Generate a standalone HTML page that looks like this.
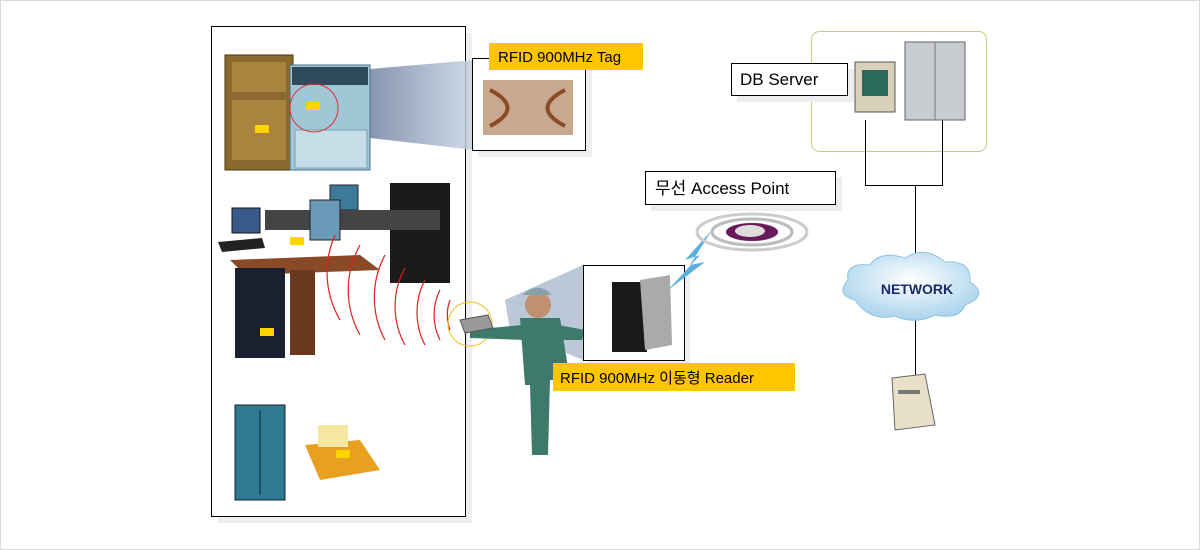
<!DOCTYPE html>
<html><head><meta charset="utf-8"><style>
body{margin:0;background:#fff}
svg{display:block}
text{font-family:"Liberation Sans","Noto Sans CJK KR",sans-serif}
</style></head><body>
<svg width="1200" height="550" viewBox="0 0 1200 550" xmlns="http://www.w3.org/2000/svg">
<defs>
<linearGradient id="beam" x1="0" x2="1"><stop offset="0" stop-color="#3a4f7a"/><stop offset="1" stop-color="#c8d4e4"/></linearGradient>
<radialGradient id="cloud" cx="0.5" cy="0.4" r="0.6"><stop offset="0" stop-color="#ffffff"/><stop offset="1" stop-color="#a9d3ec"/></radialGradient>
</defs>
<rect x="0.5" y="0.5" width="1199" height="549" fill="#fff" stroke="#d9d9d9"/>
<!-- left box -->
<rect x="218" y="33" width="254" height="490" fill="#eeeeee"/>
<rect x="211.5" y="26.5" width="254" height="490" fill="#fff" stroke="#000"/>
<!-- beam to tag -->
<polygon points="300,75 475,60 475,150 300,130" fill="url(#beam)" opacity="0.85"/>
<!-- cabinets -->
<rect x="225" y="55" width="68" height="115" fill="#8a6a2e" stroke="#4a3510"/>
<rect x="232" y="62" width="54" height="30" fill="#a8843e"/>
<rect x="232" y="100" width="54" height="60" fill="#a8843e"/>
<rect x="290" y="65" width="80" height="105" fill="#9fc7d6" stroke="#4b6f80"/>
<rect x="292" y="67" width="76" height="18" fill="#2f4a5a"/>
<rect x="295" y="130" width="72" height="38" fill="#c5dde6" stroke="#7aa0b0"/>
<circle cx="314" cy="108" r="24" fill="none" stroke="#e03030"/>
<rect x="306" y="102" width="14" height="8" fill="#ffd200"/>
<rect x="255" y="125" width="14" height="8" fill="#ffd200"/>
<!-- tag box -->
<rect x="478" y="64" width="114" height="93" fill="#eeeeee"/>
<rect x="472.5" y="58.5" width="113" height="92" fill="#fff" stroke="#000"/>
<rect x="483" y="80" width="90" height="55" fill="#c9a98e"/>
<path d="M490,90 Q525,108 490,126 M565,90 Q530,108 565,126" stroke="#8a4a2a" stroke-width="4" fill="none"/>
<rect x="489" y="43" width="154" height="27" fill="#ffc600"/>
<text x="498" y="62" font-size="15" fill="#000">RFID 900MHz Tag</text>
<!-- desks -->
<rect x="390" y="183" width="60" height="100" fill="#1a1a1a"/>
<rect x="330" y="185" width="28" height="25" fill="#3e7a9a" stroke="#222"/>
<polygon points="265,210 440,210 440,230 265,230" fill="#444"/>
<rect x="310" y="200" width="30" height="40" fill="#6a9ab8" stroke="#222"/>
<polygon points="230,260 360,255 380,270 245,275" fill="#8a4a28"/>
<rect x="235" y="268" width="50" height="90" fill="#1a2030"/>
<rect x="290" y="270" width="25" height="85" fill="#6a3a20"/>
<rect x="232" y="208" width="28" height="25" fill="#3a5a8a" stroke="#111"/>
<polygon points="218,242 262,238 265,248 222,252" fill="#222"/>
<rect x="260" y="328" width="14" height="8" fill="#ffd200"/>
<rect x="290" y="237" width="14" height="8" fill="#ffd200"/>
<!-- red arcs -->
<g fill="none" stroke="#e02020" stroke-width="1.2">
<path d="M450,300 A20,30 0 0 0 450,330"/>
<path d="M440,290 A35,45 0 0 0 440,340"/>
<path d="M425,280 A50,60 0 0 0 425,345"/>
<path d="M405,268 A70,75 0 0 0 405,345"/>
<path d="M385,255 A90,90 0 0 0 385,340"/>
<path d="M360,245 A110,100 0 0 0 360,335"/>
<path d="M335,235 A120,105 0 0 0 340,320"/>
</g>
<circle cx="470" cy="324" r="22" fill="none" stroke="#f0c020"/>
<!-- bottom items -->
<rect x="235" y="405" width="50" height="95" fill="#2f7a90" stroke="#123"/>
<line x1="260" y1="410" x2="260" y2="495" stroke="#123"/>
<polygon points="305,445 360,440 380,470 320,480" fill="#e8a020"/>
<rect x="318" y="425" width="30" height="22" fill="#f5e6a0"/>
<rect x="336" y="450" width="14" height="8" fill="#ffd200"/>
<!-- person -->
<polygon points="583,265 583,360 510,330 505,300" fill="#9fb0c8" opacity="0.7"/>
<circle cx="538" cy="305" r="13" fill="#c09070"/>
<path d="M522,295 Q538,280 552,295 Z" fill="#8aa0a8"/>
<path d="M520,318 L560,318 L570,380 L550,380 L548,455 L532,455 L530,385 L525,385 Z" fill="#3d7a6a"/>
<path d="M522,325 L470,330 L470,338 L525,340 Z" fill="#3d7a6a"/>
<path d="M558,325 L585,330 L582,340 L560,340 Z" fill="#3d7a6a"/>
<polygon points="460,320 488,315 493,328 465,333" fill="#9a9a9a" stroke="#555"/>
<!-- reader box -->
<rect x="588" y="270" width="102" height="96" fill="#eeeeee"/>
<rect x="583.5" y="265.5" width="101" height="95" fill="#fff" stroke="#000"/>
<rect x="612" y="282" width="35" height="70" fill="#1a1a1a"/>
<polygon points="640,280 670,275 672,345 645,350" fill="#aaaaaa"/>
<rect x="553" y="363" width="242" height="28" fill="#ffc600"/>
<text x="560" y="383" font-size="15" fill="#000">RFID 900MHz 이동형 Reader</text>
<!-- lightning -->
<polygon points="668,290 700,255 685,260 712,230 690,265 705,262" fill="#5bb0e0"/>
<!-- access point -->
<ellipse cx="752" cy="232" rx="55" ry="18" fill="none" stroke="#ccc" stroke-width="3"/>
<ellipse cx="752" cy="232" rx="40" ry="13" fill="none" stroke="#bbb" stroke-width="3"/>
<ellipse cx="752" cy="232" rx="26" ry="9" fill="#6a1a5a"/>
<ellipse cx="750" cy="231" rx="15" ry="6" fill="#ddd"/>
<rect x="651" y="177" width="191" height="34" fill="#eeeeee"/>
<rect x="645.5" y="171.5" width="190" height="33" fill="#fff" stroke="#000"/>
<text x="655" y="194" font-size="17" fill="#000">무선 Access  Point</text>
<!-- DB server -->
<rect x="811.5" y="31.5" width="175" height="120" rx="8" fill="#fff" stroke="#b7d67a"/>
<rect x="855" y="62" width="40" height="50" fill="#d8d0b8" stroke="#555"/>
<rect x="862" y="70" width="26" height="26" fill="#2a6a5a"/>
<rect x="905" y="42" width="60" height="78" fill="#c8ccd0" stroke="#666"/>
<line x1="935" y1="42" x2="935" y2="120" stroke="#777"/>
<rect x="737" y="69" width="117" height="33" fill="#eeeeee"/>
<rect x="731.5" y="63.5" width="116" height="32" fill="#fff" stroke="#000"/>
<text x="740" y="85" font-size="17" fill="#000">DB Server</text>
<!-- lines -->
<g stroke="#000" fill="none">
<path d="M865.5,120 V185.5 H942.5 V120"/>
<path d="M915.5,185 V270"/>
<path d="M915.5,318 V385"/>
</g>
<!-- cloud -->
<path d="M855,300 Q835,295 848,280 Q845,262 870,265 Q880,250 905,258 Q925,245 945,262 Q972,260 970,282 Q990,295 965,305 Q960,320 935,315 Q915,325 895,316 Q870,322 855,300 Z" fill="url(#cloud)" stroke="#8ec3e3"/>
<text x="917" y="294" font-size="14" font-weight="bold" fill="#1a2a6a" text-anchor="middle">NETWORK</text>
<!-- PC -->
<polygon points="892,378 925,374 935,425 895,430" fill="#e8e0c8" stroke="#666"/>
<rect x="898" y="390" width="22" height="4" fill="#777"/>
</svg>
</body></html>
